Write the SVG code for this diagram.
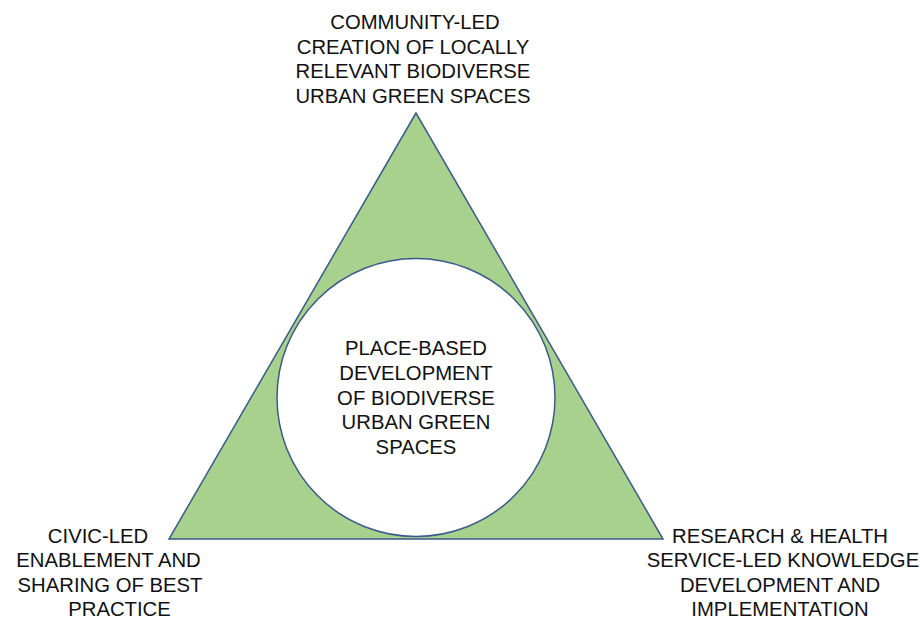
<svg xmlns="http://www.w3.org/2000/svg" width="920" height="618" viewBox="0 0 920 618">
<style>
text{font-family:"Liberation Sans",Arial,sans-serif;font-size:20.3px;fill:#111;text-anchor:middle}
.shape{stroke:#3b5a8a;stroke-width:1.5}
</style>
<rect width="920" height="618" fill="#fff"/>
<g id="triangle">
<polygon class="shape" points="416,113 169,539 663,539" fill="#a9d18e" stroke-linejoin="miter"/>
</g>
<g id="center">
<circle class="shape" cx="416" cy="397.5" r="139" fill="#fff"/>
<text x="416" y="355">PLACE-BASED</text>
<text x="416" y="380">DEVELOPMENT</text>
<text x="416" y="404.5">OF BIODIVERSE</text>
<text x="416" y="429">URBAN GREEN</text>
<text x="416" y="454">SPACES</text>
</g>
<g id="top">
<text x="415" y="29">COMMUNITY-LED</text>
<text x="413" y="53.5">CREATION OF LOCALLY</text>
<text x="413" y="78">RELEVANT BIODIVERSE</text>
<text x="413" y="102.5">URBAN GREEN SPACES</text>
</g>
<g id="bottom-left">
<text x="98" y="542.5">CIVIC-LED</text>
<text x="108.5" y="567">ENABLEMENT AND</text>
<text x="110" y="591.5">SHARING OF BEST</text>
<text x="119.5" y="615.5">PRACTICE</text>
</g>
<g id="bottom-right">
<text x="780" y="542.5">RESEARCH &amp; HEALTH</text>
<text x="783" y="567">SERVICE-LED KNOWLEDGE</text>
<text x="780" y="591.5">DEVELOPMENT AND</text>
<text x="780" y="615.5">IMPLEMENTATION</text>
</g>
<g id="connectors"/>
</svg>
